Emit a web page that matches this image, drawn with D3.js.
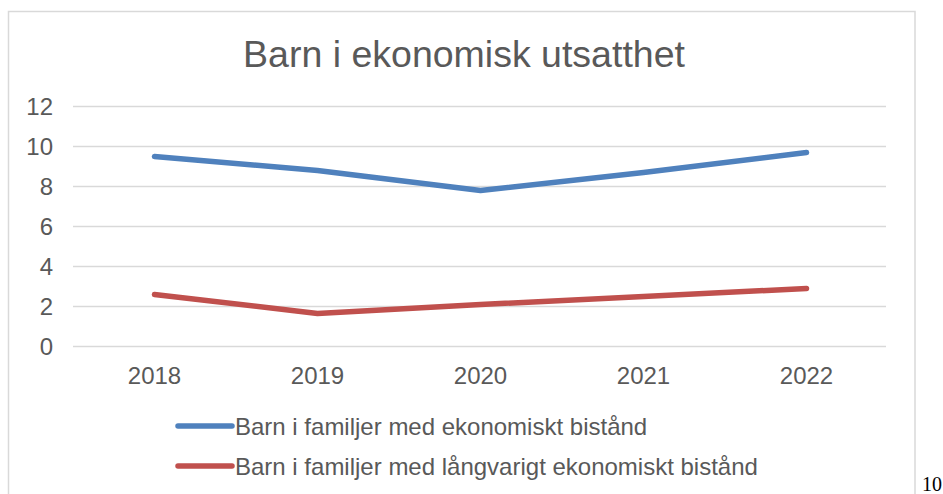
<!DOCTYPE html>
<html>
<head>
<meta charset="utf-8">
<script src="https://cdn.jsdelivr.net/npm/d3@7"></script>
<style>
html, body { margin: 0; padding: 0; background: #fff; }
svg { display: block; }
</style>
</head>
<body>
<svg id="chart" width="943" height="494"></svg>
<script>
const title = "Barn i ekonomisk utsatthet";
const years = ["2018", "2019", "2020", "2021", "2022"];
const seriesNames = ["Barn i familjer med ekonomiskt bistånd", "Barn i familjer med långvarigt ekonomiskt bistånd"];
const seriesBlue = [9.5, 8.8, 7.8, 8.7, 9.7];
const seriesRed = [2.6, 1.65, 2.1, 2.5, 2.9];
const yTicks = [0, 2, 4, 6, 8, 10, 12];
const pageNumber = "10";
const colors = ["#4F81BD", "#C0504D"];

const svg = d3.select("#chart");
const font = "Arial, 'Liberation Sans', sans-serif";
const textColor = "#595959";

// chart border
svg.append("rect")
  .attr("x", 8.5).attr("y", 11.5)
  .attr("width", 906.5).attr("height", 500)
  .attr("fill", "#fff").attr("stroke", "#d9d9d9").attr("stroke-width", 1.5);

const x = d3.scaleBand().domain(years).range([73, 888]);
const y = d3.scaleLinear().domain([0, 12]).range([346.5, 106.5]);

// gridlines
svg.append("g").selectAll("line").data(yTicks).join("line")
  .attr("x1", 73).attr("x2", 886)
  .attr("y1", d => y(d)).attr("y2", d => y(d))
  .attr("stroke", "#d9d9d9").attr("stroke-width", 1.5);

// y axis labels
const yAxis = d3.axisLeft(y).tickValues(yTicks).tickSize(0).tickPadding(0);
const gy = svg.append("g").attr("transform", "translate(53,0)").call(yAxis);
gy.select(".domain").remove();
gy.selectAll("text").attr("font-family", font).attr("font-size", 24).attr("fill", textColor).attr("dy", "0.35em");

// x axis labels
const xAxis = d3.axisBottom(x).tickSize(0).tickPadding(0);
const gx = svg.append("g").attr("transform", "translate(0,367)").call(xAxis);
gx.select(".domain").remove();
gx.selectAll("text").attr("font-family", font).attr("font-size", 24).attr("fill", textColor).attr("dy", "0.71em");

// lines
const line = d3.line()
  .x((d, i) => x(years[i]) + x.bandwidth() / 2)
  .y(d => y(d));
[seriesBlue, seriesRed].forEach((s, i) => {
  svg.append("path").datum(s)
    .attr("d", line)
    .attr("fill", "none")
    .attr("stroke", colors[i])
    .attr("stroke-width", 5.5)
    .attr("stroke-linecap", "round")
    .attr("stroke-linejoin", "round");
});

// title
svg.append("text")
  .attr("x", 464).attr("y", 67)
  .attr("text-anchor", "middle")
  .attr("font-family", font).attr("font-size", 37.5)
  .attr("fill", textColor)
  .text(title);

// legend
const legend = svg.append("g");
seriesNames.forEach((name, i) => {
  const ly = 426 + i * 40;
  legend.append("line")
    .attr("x1", 178).attr("x2", 232)
    .attr("y1", ly).attr("y2", ly)
    .attr("stroke", colors[i]).attr("stroke-width", 5.5)
    .attr("stroke-linecap", "round");
  legend.append("text")
    .attr("x", 235).attr("y", ly + 9)
    .attr("font-family", font).attr("font-size", 24)
    .attr("fill", textColor)
    .text(name);
});

// page number
svg.append("text")
  .attr("x", 922).attr("y", 491)
  .attr("font-family", "'Liberation Serif', 'Times New Roman', serif")
  .attr("font-size", 20)
  .attr("fill", "#000")
  .text(pageNumber);
</script>
</body>
</html>
